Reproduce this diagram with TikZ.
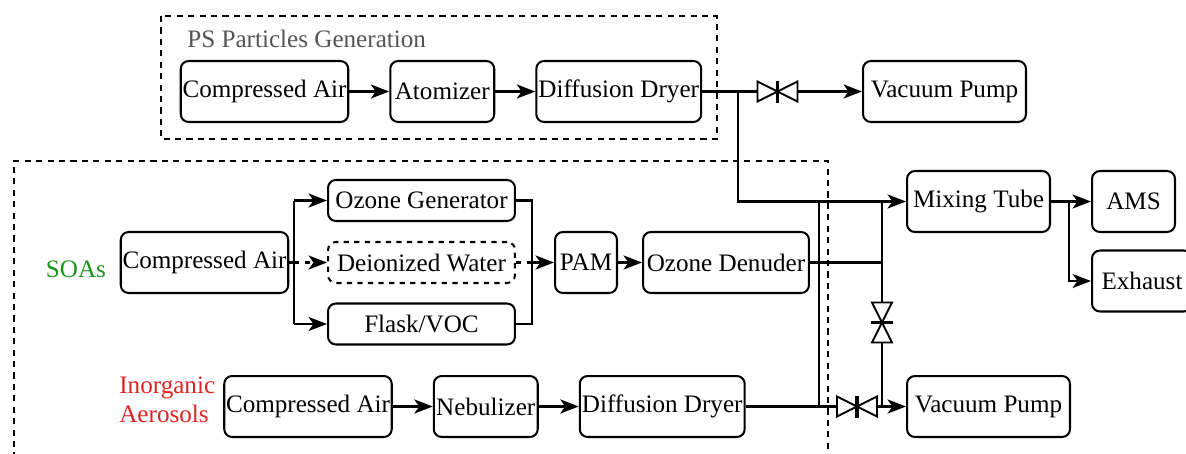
\documentclass[tikz,border=0pt]{standalone}
\usepackage{fontspec}
\setmainfont{Liberation Serif}
\usetikzlibrary{arrows.meta, positioning, calc}
\definecolor{psgray}{RGB}{85, 85, 85}
\definecolor{soagreen}{RGB}{25, 150, 25}
\definecolor{inorgred}{RGB}{225, 35, 35}

\begin{document}
\begin{tikzpicture}[
    x = 0.02cm, y = -0.02cm,
    node distance = 0.8cm,
    every node/.style = {font=\fontsize{14.3}{16.5}\selectfont},
    box/.style = {draw, rounded corners=4.5pt, line width=1.15pt,
                  minimum height=1.22cm, inner sep=1pt, align=center},
    sbox/.style = {box, minimum height=0.82cm, minimum width=3.74cm},
    label/.style = {inner sep=0pt, align=left},
    arrow/.style = {-{Stealth[length=10.5pt, width=8pt, inset=2.8pt]}, line width=1.15pt},
    pipe/.style = {line width=1.15pt},
    group/.style = {dash pattern=on 3.5pt off 3pt, line width=1.1pt},
    valve/.pic = {
      \draw[fill=white, line width=1.1pt, line join=miter]
        (-20,-10) -- (-20,10) -- (0,0) -- cycle
        (20,-10) -- (20,10) -- (0,0) -- cycle;
      \draw[line width=2.2pt] (0,-11) -- (0,11);
      \coordinate (-a) at (-20,0);
      \coordinate (-b) at (20,0);
    }
]
  \useasboundingbox (0,0) rectangle (1186,453);

  % groups
  \draw[group] (161,16) rectangle (717,139);
  \draw[group] (14,470) -- (14,161) -- (828,161) -- (828,470);

  % PS particles
  \node[label, anchor=base west, text=psgray] (pstitle) at (187,47) {PS Particles Generation};
  \node[box, minimum width=3.3cm] (psair) at (264.5,91.5) {Compressed Air};
  \node[box, minimum width=2.08cm, right=of psair] (atom) {Atomizer};
  \node[box, minimum width=3.3cm, right=of atom] (psdry) {Diffusion Dryer};
  \node[box, minimum width=3.26cm] (vac1) at (944.5,91.5) {Vacuum Pump};

  % SOAs
  \node[label, text=soagreen] (soalabel) at (76,269) {SOAs};
  \node[box, minimum width=3.3cm] (soaair) at (204.5,262.5) {Compressed Air};
  \node[sbox] (ozgen) at (421.5,200.5) {Ozone Generator};
  \node[sbox, dashed] (water) at (421.5,262.5) {Deionized Water};
  \node[sbox] (flask) at (421.5,324) {Flask/VOC};
  \node[box, minimum width=1.24cm] (pam) at (586,262.5) {PAM};
  \node[box, minimum width=3.32cm, right=0.48cm of pam] (ozden) {Ozone Denuder};

  % inorganic aerosols
  \node[label, anchor=west, text=inorgred] (inlabel) at (119,400) {Inorganic\\Aerosols};
  \node[box, minimum width=3.32cm] (inair) at (308,406.5) {Compressed Air};
  \node[box, minimum width=2.08cm, right=of inair] (neb) {Nebulizer};
  \node[box, minimum width=3.3cm, right=of neb] (indry) {Diffusion Dryer};
  \node[box, minimum width=3.26cm] (vac2) at (988.5,406.5) {Vacuum Pump};

  % outlet side
  \node[box, minimum width=2.86cm] (mix) at (978.5,201.5) {Mixing Tube};
  \node[box, minimum width=1.66cm] (ams) at (1133.5,201.5) {AMS};
  \node[box, minimum width=2cm] (exh) at (1142,281) {Exhaust};

  \pic (v1) at (777.5,91.5) {valve};
  \pic (v2) at (857,406.5) {valve};
  \pic[rotate=90] (v3) at (882,322.5) {valve};

  \coordinate (j1) at (738,91.5);
  \coordinate (j2) at (819,201.5);
  \coordinate (j3) at (882,201.5);
  \coordinate (j4) at (1069,201.5);
  \coordinate (b1) at (819,406.5);
  \coordinate (b2) at (882,406.5);
  \coordinate (s1) at (294,262.5);
  \coordinate (s2) at (532,262.5);

  \draw[arrow] (psair) -- (atom);
  \draw[arrow] (atom) -- (psdry);
  \draw[pipe] (psdry) -- (v1-a);
  \draw[arrow] (v1-b) -- (vac1);
  \draw[arrow] (j1) |- (mix);

  \draw[pipe] (soaair) -- (s1);
  \draw[pipe] (ozgen.west -| s1) -- (flask.west -| s1);
  \draw[arrow] (ozgen.west -| s1) -- (ozgen);
  \draw[arrow, dashed] (s1) -- (water);
  \draw[arrow] (flask.west -| s1) -- (flask);
  \draw[pipe] (ozgen.east) -- (ozgen.east -| s2) -- (flask.east -| s2) -- (flask.east);
  \draw[pipe, dashed] (water) -- (s2);
  \draw[arrow] (s2) -- (pam);
  \draw[arrow] (pam) -- (ozden);
  \draw[pipe] (ozden.east) -- (ozden.east -| j3);

  \draw[arrow] (inair) -- (neb);
  \draw[arrow] (neb) -- (indry);
  \draw[pipe] (indry) -- (v2-a);
  \draw[arrow] (v2-b) -- (vac2);

  \draw[pipe] (j2) -- (b1);
  \draw[pipe] (j3) -- (v3-b);
  \draw[pipe] (v3-a) -- (b2);
  \draw[arrow] (mix) -- (ams);
  \draw[arrow] (j4) |- (exh);
\end{tikzpicture}
\end{document}
